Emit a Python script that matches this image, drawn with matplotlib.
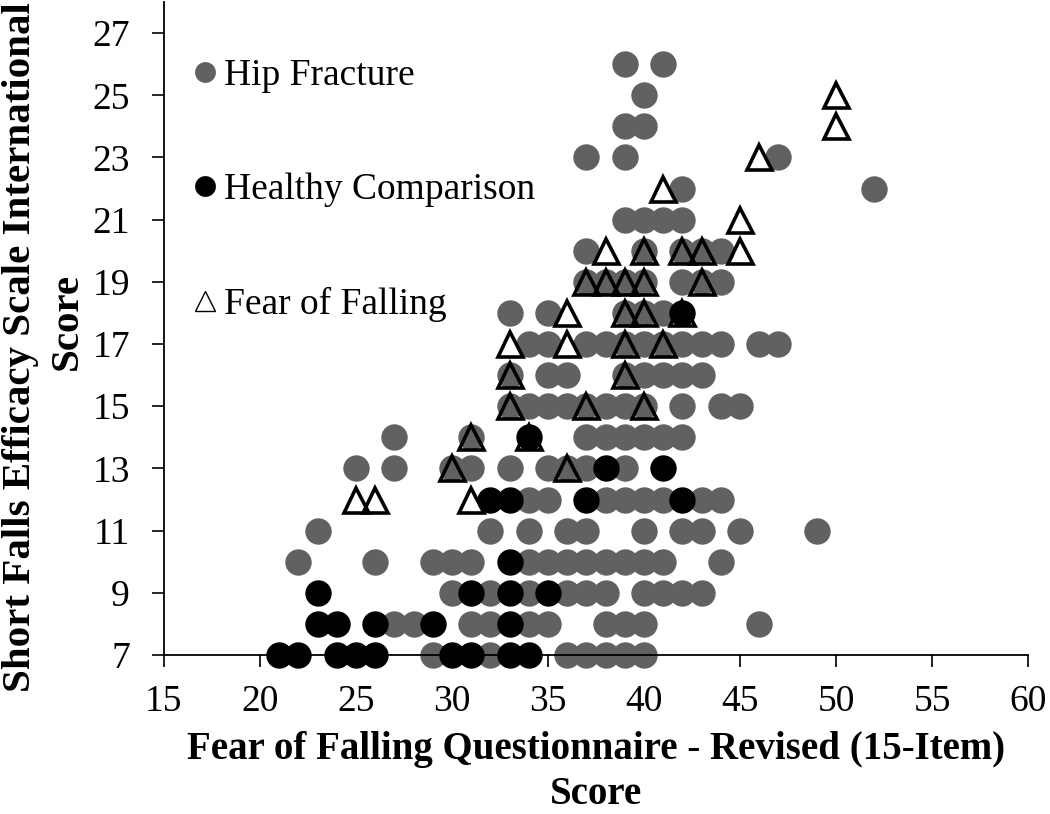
import matplotlib
matplotlib.use("Agg")
import matplotlib.pyplot as plt
from matplotlib.lines import Line2D

plt.rcParams['font.family'] = ['Liberation Serif', 'DejaVu Serif']

# ---- Data ----
hip_x = [29, 32, 36, 37, 38, 39, 40,
         27, 28, 31, 32, 34, 35, 38, 39, 40, 46,
         30, 32, 34, 36, 37, 38, 40, 41, 42, 43,
         22, 26, 29, 30, 31, 34, 35, 36, 37, 38, 39, 40, 41, 44,
         23, 32, 34, 36, 37, 40, 42, 43, 45, 49,
         34, 35, 38, 39, 40, 41, 43, 44,
         25, 27, 30, 31, 33, 35, 36, 37, 39,
         27, 31, 37, 38, 39, 40, 41, 42,
         33, 34, 35, 36, 37, 38, 39, 40, 42, 44, 45,
         33, 35, 36, 39, 40, 41, 42, 43,
         34, 35, 37, 38, 39, 40, 41, 42, 43, 44, 46, 47,
         33, 35, 39, 40, 41,
         37, 38, 39, 40, 42, 43, 44,
         37, 40, 42, 43, 44,
         39, 40, 41, 42,
         42, 52,
         37, 39, 47,
         39, 40,
         40,
         39, 41]
hip_y = ([7] * 7 + [8] * 10 + [9] * 10 + [10] * 14 + [11] * 10 + [12] * 8 +
         [13] * 9 + [14] * 8 + [15] * 11 + [16] * 8 + [17] * 12 + [18] * 5 +
         [19] * 7 + [20] * 5 + [21] * 4 + [22] * 2 + [23] * 3 + [24] * 2 +
         [25] * 1 + [26] * 2)

healthy_x = [21, 22, 24, 25, 26, 30, 31, 33, 34,
             23, 24, 26, 29, 33,
             23, 31, 33, 35,
             33,
             32, 33, 37, 42,
             38, 41,
             34,
             42]
healthy_y = ([7] * 9 + [8] * 5 + [9] * 4 + [10] * 1 + [12] * 4 + [13] * 2 +
             [14] * 1 + [18] * 1)

fof_x = [25, 26, 31,
         30, 36,
         31, 34,
         33, 37, 40,
         33, 39,
         33, 36, 39, 41,
         36, 39, 40, 42,
         37, 38, 39, 40, 43,
         38, 40, 42, 43, 45,
         45,
         41,
         46,
         50,
         50]
fof_y = ([12] * 3 + [13] * 2 + [14] * 2 + [15] * 3 + [16] * 2 + [17] * 4 +
         [18] * 4 + [19] * 5 + [20] * 5 + [21] + [22] + [23] + [24] + [25])

series_labels = ["Hip Fracture", "Healthy Comparison", "Fear of Falling"]
x_ticks = [15, 20, 25, 30, 35, 40, 45, 50, 55, 60]
y_ticks = [7, 9, 11, 13, 15, 17, 19, 21, 23, 25, 27]
x_label = "Fear of Falling Questionnaire - Revised (15-Item)\nScore"
y_label_line1 = "Short Falls Efficacy Scale International"
y_label_line2 = "Score"

# ---- Figure ----
W, H = 1050, 814
fig = plt.figure(figsize=(W / 100, H / 100), dpi=100)
ax = fig.add_axes([164 / W, 1 - 655 / H, (1028 - 164) / W, (655 - 2) / H])

gray = "#616161"
ax.plot(hip_x, hip_y, linestyle='none', marker='o', markersize=19,
        markerfacecolor=gray, markeredgecolor='none', zorder=2, clip_on=False)
ax.plot(healthy_x, healthy_y, linestyle='none', marker='o', markersize=19,
        markerfacecolor='black', markeredgecolor='none', zorder=3,
        clip_on=False)
ax.plot(fof_x, fof_y, linestyle='none', marker='^', markersize=18,
        markerfacecolor='none', markeredgecolor='black', markeredgewidth=2.6,
        zorder=4, clip_on=False)

ax.set_xlim(15, 60)
ax.set_ylim(7, 28)
ax.set_xticks(x_ticks)
ax.set_yticks(y_ticks)
ax.tick_params(axis='both', labelsize=27, direction='out', width=1.2,
               color='black', length=8.5)
ax.tick_params(axis='y', pad=16)
ax.tick_params(axis='x', pad=13)
for s in ['top', 'right']:
    ax.spines[s].set_visible(False)
for s in ['left', 'bottom']:
    ax.spines[s].set_linewidth(1.3)
ax.spines['bottom'].set_bounds(15, 60)

ax.set_xlabel(x_label, fontsize=28, fontweight='bold', linespacing=1.3)
ax.xaxis.set_label_coords(0.5, -0.116)

# y-axis title (two lines, as wrapped in the original)
fig.text(2 / W, 1 - 347 / H, y_label_line1, rotation=90, ha='left',
         va='center', fontsize=29.5, fontweight='bold')
fig.text(49 / W, 1 - 322 / H, y_label_line2, rotation=90, ha='left',
         va='center', fontsize=29.5, fontweight='bold')

handles = [
    Line2D([], [], linestyle='none', marker='o', markersize=15,
           markerfacecolor=gray, markeredgecolor='none'),
    Line2D([], [], linestyle='none', marker='o', markersize=15,
           markerfacecolor='black', markeredgecolor='none'),
    Line2D([], [], linestyle='none', marker='^', markersize=14,
           markerfacecolor='none', markeredgecolor='black',
           markeredgewidth=1.0),
]
ax.legend(handles, series_labels, loc='upper left',
          bbox_to_anchor=(0.013, 0.937), frameon=False, borderaxespad=0,
          handlelength=0.8, handletextpad=0.1, labelspacing=2.13,
          prop={'family': 'Liberation Serif', 'size': 27})

fig.savefig("out.png", dpi=100)
